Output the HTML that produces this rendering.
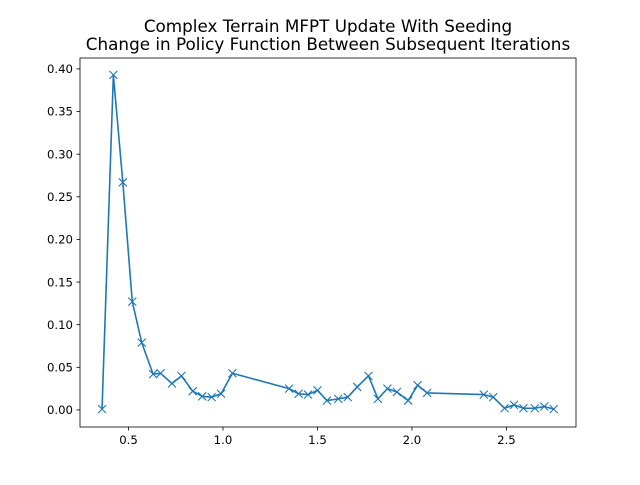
<!DOCTYPE html>
<html><head><meta charset="utf-8"><style>
body{margin:0;background:#fff;}
svg text{font-family:"DejaVu Sans","Liberation Sans",sans-serif;}
</style></head><body>
<svg id="chart" width="640" height="480" xmlns="http://www.w3.org/2000/svg">
<rect width="640" height="480" fill="#fff"/>
<text x="328" y="32" font-size="16.8" text-anchor="middle">Complex Terrain MFPT Update With Seeding</text>
<text x="328" y="50" font-size="16.8" text-anchor="middle">Change in Policy Function Between Subsequent Iterations</text>
<g id="axes"></g>
</svg>
<script>
const xValues=[0.36,0.42,0.47,0.52,0.57,0.63,0.67,0.73,0.78,0.84,0.89,0.94,0.99,1.05,1.35,1.40,1.45,1.50,1.55,1.61,1.66,1.71,1.77,1.82,1.87,1.92,1.98,2.03,2.08,2.38,2.43,2.49,2.54,2.59,2.65,2.70,2.75];
const yValues=[0.001,0.393,0.267,0.127,0.079,0.042,0.043,0.031,0.040,0.022,0.016,0.015,0.019,0.043,0.025,0.019,0.018,0.023,0.011,0.013,0.015,0.027,0.040,0.013,0.025,0.021,0.011,0.029,0.020,0.018,0.015,0.002,0.006,0.002,0.002,0.004,0.001];
const xTicks=[0.5,1.0,1.5,2.0,2.5];
const xTickLabels=["0.5","1.0","1.5","2.0","2.5"];
const yTicks=[0,0.05,0.1,0.15,0.2,0.25,0.3,0.35,0.4];
const yTickLabels=["0.00","0.05","0.10","0.15","0.20","0.25","0.30","0.35","0.40"];
const L=80,R=576,T=58,B=427;
const xMin=0.2434,xMax=2.868,yMin=-0.02,yMax=0.4128;
const sx=v=>L+(v-xMin)/(xMax-xMin)*(R-L);
const sy=v=>B-(v-yMin)/(yMax-yMin)*(B-T);
const NS="http://www.w3.org/2000/svg";
const g=document.getElementById('axes');
function mk(t,a){const e=document.createElementNS(NS,t);for(const k in a)e.setAttribute(k,a[k]);g.appendChild(e);return e;}
xTicks.forEach((v,i)=>{
 const t=mk('line',{x1:sx(v),x2:sx(v),y1:B,y2:B+3.5,stroke:'#000','stroke-width':0.8});
 
 
 const l=mk('text',{x:sx(v),y:B+17,'font-size':11.7,'text-anchor':'middle'});
 l.textContent=xTickLabels[i];
 
 
});
yTicks.forEach((v,i)=>{
 const t=mk('line',{x1:L-3.5,x2:L,y1:sy(v),y2:sy(v),stroke:'#000','stroke-width':0.8});
 
 
 const l=mk('text',{x:L-7,y:sy(v)+4.2,'font-size':11.7,'text-anchor':'end'});
 l.textContent=yTickLabels[i];
 
 
});
const pts=xValues.map((x,i)=>sx(x)+','+sy(yValues[i])).join(' ');
const line=mk('polyline',{points:pts,fill:'none',stroke:'#1f77b4','stroke-width':1.6,'stroke-linejoin':'round'});


xValues.forEach((x,i)=>{
 const cx=sx(x),cy=sy(yValues[i]),s=4;
 const m=mk('path',{d:`M${cx-s},${cy-s}L${cx+s},${cy+s}M${cx-s},${cy+s}L${cx+s},${cy-s}`,stroke:'#1f77b4','stroke-width':1.1,fill:'none'});
 
 
});
const f=mk('rect',{x:L,y:T,width:R-L,height:B-T,fill:'none',stroke:'#000','stroke-width':0.8});


</script>
</body></html>
